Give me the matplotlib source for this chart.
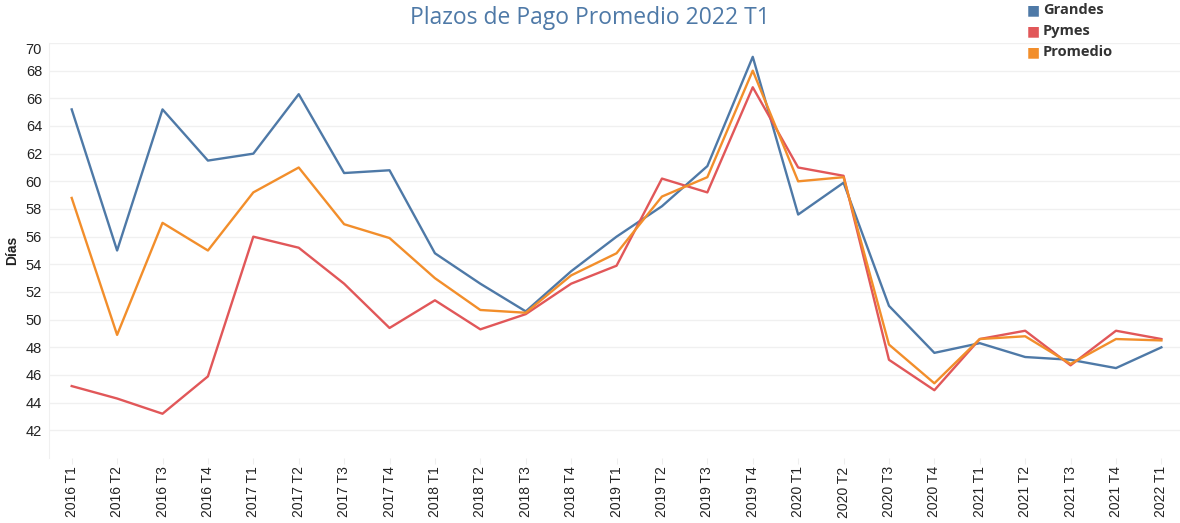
import numpy as np
import matplotlib
matplotlib.use('Agg')
import matplotlib.pyplot as plt

# quarters on the x axis
quarters = ['2016 T1', '2016 T2', '2016 T3', '2016 T4',
            '2017 T1', '2017 T2', '2017 T3', '2017 T4',
            '2018 T1', '2018 T2', '2018 T3', '2018 T4',
            '2019 T1', '2019 T2', '2019 T3', '2019 T4',
            '2020 T1', '2020 T2', '2020 T3', '2020 T4',
            '2021 T1', '2021 T2', '2021 T3', '2021 T4',
            '2022 T1']

grandes = [65.2, 55.0, 65.2, 61.5, 62.0, 66.3, 60.6, 60.8, 54.8, 52.6, 50.6, 53.5,
           56.0, 58.2, 61.1, 69.0, 57.6, 59.9, 51.0, 47.6, 48.3, 47.3, 47.1, 46.5, 48.0]
pymes = [45.2, 44.3, 43.2, 45.9, 56.0, 55.2, 52.6, 49.4, 51.4, 49.3, 50.4, 52.6,
         53.9, 60.2, 59.2, 66.8, 61.0, 60.4, 47.1, 44.9, 48.6, 49.2, 46.7, 49.2, 48.6]
promedio = [58.8, 48.9, 57.0, 55.0, 59.2, 61.0, 56.9, 55.9, 53.0, 50.7, 50.5, 53.2,
            54.8, 58.9, 60.3, 68.0, 60.0, 60.3, 48.2, 45.4, 48.6, 48.8, 46.8, 48.6, 48.5]

y_ticks = [42, 44, 46, 48, 50, 52, 54, 56, 58, 60, 62, 64, 66, 68, 70]

series = [('Grandes', grandes, '#4e79a7'),
          ('Pymes', pymes, '#e15759'),
          ('Promedio', promedio, '#f28e2b')]

plt.rcParams['font.family'] = ['Liberation Sans', 'DejaVu Sans']

fig = plt.figure(figsize=(11.8, 5.23), dpi=100)
ax = fig.add_axes([49 / 1180, 1 - 458 / 523, 1 - 49 / 1180, (458 - 43) / 523])

x = np.arange(len(quarters))
for name, vals, col in series:
    ax.plot(x, vals, color=col, linewidth=1.7, label=name)

ax.set_xlim(-0.5, 24.41)
ax.set_ylim(40, 70)
ax.set_xticks(x)
ax.set_xticklabels(quarters, rotation=90, fontsize=10, color='#222222')
ax.set_yticks(y_ticks)
ax.set_yticklabels([str(v) for v in y_ticks], fontsize=10.5, color='#222222')
# last label sits inside the axes like the original
ax.get_yticklabels()[-1].set_verticalalignment('top')

ax.grid(axis='y', color='#f0f0f0', linewidth=1)
ax.set_axisbelow(True)
for s in ['top', 'right', 'bottom']:
    ax.spines[s].set_visible(False)
ax.spines['left'].set_color('#f0f0f0')
ax.tick_params(axis='y', length=0, pad=5)
ax.tick_params(axis='x', length=4, color='#eeeeee', pad=2)

ax.set_ylabel('Días', fontsize=10, fontweight='bold', color='#222222')
ax.yaxis.set_label_coords(-0.026, 0.5)

fig.text(590 / 1180, 1 - 18 / 523, 'Plazos de Pago Promedio 2022 T1', ha='center', va='center',
         fontsize=16.5, color='#4e79a7', family=['Open Sans', 'DejaVu Sans'])

# legend in the top right corner
for i, (name, vals, col) in enumerate(series):
    yy = 1 - (10 + 21 * i) / 523
    fig.text(1027 / 1180, yy, '\u25A0', ha='left', va='center', fontsize=10, color=col,
             family='DejaVu Sans')
    fig.text(1043 / 1180, yy, name, ha='left', va='center', fontsize=10.5, fontweight='bold',
             color='#333333', family=['Open Sans', 'DejaVu Sans'])

fig.savefig('out.png', dpi=100)
